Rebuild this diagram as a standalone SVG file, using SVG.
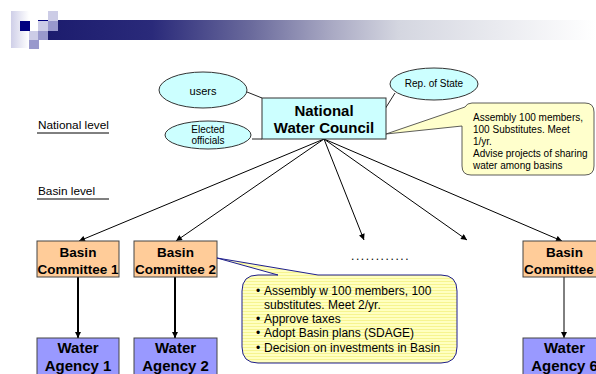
<svg xmlns="http://www.w3.org/2000/svg" width="596" height="374" viewBox="0 0 596 374">
<defs>
<linearGradient id="bar" x1="0" y1="0" x2="1" y2="0">
<stop offset="0" stop-color="#1c1c6e"/>
<stop offset="0.19" stop-color="#2a2a7a"/>
<stop offset="0.37" stop-color="#6a6a9c"/>
<stop offset="0.52" stop-color="#aaaac4"/>
<stop offset="0.64" stop-color="#d4d6e0"/>
<stop offset="1" stop-color="#ffffff"/>
</linearGradient>
<linearGradient id="lbar" x1="0" y1="0" x2="1" y2="0">
<stop offset="0" stop-color="#cfcfe8"/>
<stop offset="1" stop-color="#ffffff"/>
</linearGradient>
<pattern id="stripes" width="4" height="3" patternUnits="userSpaceOnUse">
<rect width="4" height="3" fill="#ffffc0"/>
<rect y="2" width="4" height="1" fill="#f6f490"/>
</pattern>
<marker id="ah" viewBox="0 0 10 10" refX="10" refY="5" markerWidth="7" markerHeight="6" markerUnits="userSpaceOnUse" orient="auto">
<path d="M0,0 L10,5 L0,10 Z" fill="#000"/>
</marker>
</defs>
<style>
text{font-family:"Liberation Sans",Arial,sans-serif;fill:#000}
.b{font-weight:bold;text-anchor:middle}
.c{text-anchor:middle}
.ell{fill:#ccffff;stroke:#333;stroke-width:1}
.ln{stroke:#222;stroke-width:1;fill:none}
.arr{stroke:#000;stroke-width:1;fill:none;marker-end:url(#ah)}
.bc{fill:#ffcc99;stroke:#444;stroke-width:1}
.wa{fill:#9999ff;stroke:#444;stroke-width:1}
</style>

<g id="logo">
<rect x="48" y="20" width="548" height="20" fill="url(#bar)"/>
<rect x="11" y="11" width="18" height="37" fill="url(#lbar)"/>
<rect x="20" y="21" width="10" height="10" fill="#000080"/>
<rect x="29" y="31" width="9" height="9" fill="#ccccE6"/>
<rect x="29" y="40" width="10" height="9" fill="#9999cc"/>
<rect x="38" y="20" width="10" height="1" fill="#000080"/>
<rect x="38" y="21" width="10" height="10" fill="#ccccE6"/>
<rect x="38" y="31" width="10" height="9" fill="#9999cc"/>
<rect x="48" y="11" width="10" height="10" fill="#ccccE6"/>
<rect x="48" y="21" width="10" height="10" fill="#9999cc"/>
</g>

<g id="levels">
<text x="38" y="129" font-size="11.8">National level</text>
<line x1="37" y1="133" x2="109" y2="133" stroke="#000" stroke-width="1"/>
<text x="38" y="195" font-size="11.8">Basin level</text>
<line x1="37" y1="199" x2="109" y2="199" stroke="#000" stroke-width="1"/>
</g>

<g id="connectors">
<line class="ln" x1="247" y1="92" x2="262" y2="98"/>
<line class="ln" x1="252" y1="139" x2="262" y2="139"/>
<line class="ln" x1="385" y1="109" x2="395" y2="93"/>
<line class="arr" x1="324" y1="139" x2="79" y2="241"/>
<line class="arr" x1="324" y1="139" x2="176" y2="241"/>
<line class="arr" x1="324" y1="139" x2="364" y2="240"/>
<line class="arr" x1="324" y1="139" x2="467" y2="240"/>
<line class="arr" x1="324" y1="139" x2="562" y2="241"/>
<line x1="78" y1="277" x2="78" y2="338" stroke="#000" stroke-width="2" marker-end="url(#ah)"/>
<line x1="175" y1="277" x2="175" y2="338" stroke="#000" stroke-width="2" marker-end="url(#ah)"/>
<line class="arr" x1="564" y1="277" x2="564" y2="338"/>
</g>

<g id="users">
<ellipse class="ell" cx="203" cy="90" rx="44" ry="18"/>
<text class="c" x="203" y="95" font-size="11">users</text>
</g>
<g id="elected">
<ellipse class="ell" cx="208" cy="135" rx="43" ry="14"/>
<text class="c" x="208" y="132.5" font-size="10">Elected</text>
<text class="c" x="208" y="143.5" font-size="10">officials</text>
</g>
<g id="repstate">
<ellipse class="ell" cx="434" cy="84" rx="44" ry="16"/>
<text class="c" x="434" y="87" font-size="10">Rep. of State</text>
</g>

<g id="national">
<rect x="262" y="98" width="124" height="41" fill="#ccffff" stroke="#333" stroke-width="1"/>
<text class="b" x="324" y="116" font-size="15">National</text>
<text class="b" x="324" y="133" font-size="15">Water Council</text>
</g>

<g id="callout-national">
<path d="M472,103 H585 Q594,103 594,112 V166 Q594,175 585,175 H471 Q462,175 462,166 V126 L386,134 L465,107 Q467,103 472,103 Z" fill="#ffffcc" stroke="#333" stroke-width="0.8"/>
<text x="473" y="121" font-size="10">Assembly 100 members,</text>
<text x="473" y="133" font-size="10">100 Substitutes. Meet</text>
<text x="473" y="145" font-size="10">1/yr.</text>
<text x="473" y="157" font-size="10">Advise projects of sharing</text>
<text x="473" y="169" font-size="10">water among basins</text>
</g>

<g id="dots">
<text x="351" y="260" font-size="12" letter-spacing="1.6">............</text>
</g>

<g id="bc1">
<rect class="bc" x="37" y="241" width="82" height="36"/>
<text class="b" x="78" y="257" font-size="13.5">Basin</text>
<text class="b" x="78" y="274" font-size="13.5">Committee 1</text>
</g>
<g id="bc2">
<rect class="bc" x="134" y="241" width="83" height="36"/>
<text class="b" x="175.5" y="257" font-size="13.5">Basin</text>
<text class="b" x="175.5" y="274" font-size="13.5">Committee 2</text>
</g>
<g id="bc6">
<rect class="bc" x="523" y="241" width="83" height="36"/>
<text class="b" x="564.5" y="257" font-size="13.5">Basin</text>
<text class="b" x="564.5" y="274" font-size="13.5">Committee 6</text>
</g>

<g id="callout-basin">
<path d="M258,275 H278 L217,258 L318,275 H441 Q457,275 457,291 V347 Q457,363 441,363 H258 Q242,363 242,347 V291 Q242,275 258,275 Z" fill="url(#stripes)" stroke="#1f1f8f" stroke-width="1"/>
<g font-size="12">
<text x="256" y="295">•</text><text x="264" y="295">Assembly w 100 members, 100</text>
<text x="264" y="309">substitutes. Meet 2/yr.</text>
<text x="256" y="323">•</text><text x="264" y="323">Approve taxes</text>
<text x="256" y="337">•</text><text x="264" y="337">Adopt Basin plans (SDAGE)</text>
<text x="256" y="352">•</text><text x="264" y="352">Decision on investments in Basin</text>
</g>
</g>

<g id="wa1">
<rect class="wa" x="37" y="338" width="82" height="40"/>
<text class="b" x="78" y="353" font-size="15">Water</text>
<text class="b" x="78" y="371" font-size="15">Agency 1</text>
</g>
<g id="wa2">
<rect class="wa" x="134" y="338" width="83" height="40"/>
<text class="b" x="175.5" y="353" font-size="15">Water</text>
<text class="b" x="175.5" y="371" font-size="15">Agency 2</text>
</g>
<g id="wa6">
<rect class="wa" x="523" y="338" width="83" height="40"/>
<text class="b" x="564.5" y="353" font-size="15">Water</text>
<text class="b" x="564.5" y="371" font-size="15">Agency 6</text>
</g>
</svg>
